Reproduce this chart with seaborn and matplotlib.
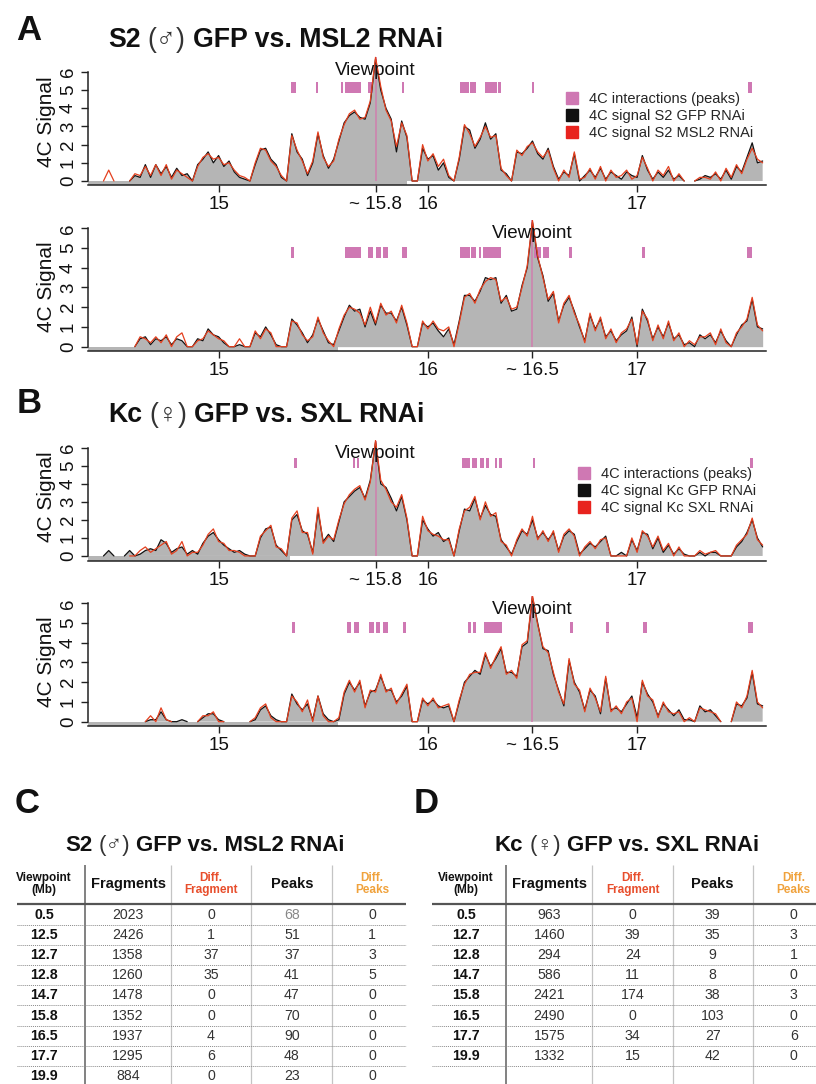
import numpy as np
import pandas as pd
import matplotlib
matplotlib.use("Agg")
import matplotlib.pyplot as plt
from matplotlib.lines import Line2D
import seaborn as sns

N = None
# genomic sampling grid (Mb)
POS_START = 14.4
POS_STEP = 0.025

# ---------------- 4C signal profiles ----------------
A_TOP_GFP = [N, N, N, N, N, N, N, 0.0, 0.3, 0.2,
             0.9, 0.2, 0.9, 0.4, 0.8, 0.2, 0.7, 0.3, 0.4, 0.0,
             0.9, 1.2, 1.6, 1.0, 1.4, 0.8, 1.1, 0.5, 0.2, 0.1,
             0.0, 0.9, 1.7, 1.8, 1.2, 0.9, 0.2, 0.0, 2.6, 1.6,
             1.2, 0.3, 1.0, 2.6, 1.4, 0.7, 1.2, 2.2, 3.2, 3.6,
             3.8, 3.5, 3.4, 4.3, 6.7, 5.0, 4.0, 3.4, 1.6, 3.3,
             2.4, 0.0, 0.0, 1.8, 1.2, 1.4, 0.6, 1.0, 0.2, 0.0,
             1.2, 3.0, 2.8, 1.8, 2.3, 3.2, 2.3, 2.6, 0.6, 0.4,
             0.0, 1.6, 1.5, 1.8, 2.2, 1.5, 1.2, 1.8, 0.8, 0.1,
             0.5, 0.3, 1.5, 0.0, 0.3, 0.6, 0.2, 0.7, 0.1, 0.5,
             0.3, 0.1, 0.5, 0.3, 0.2, 1.4, 0.6, 0.1, 0.5, 0.2,
             0.6, 0.1, 0.3, 0.0, N, 0.0, 0.1, 0.3, 0.2, 0.4,
             0.1, 0.6, 0.1, 0.8, 0.5, 1.3, 2.1, 1.0, 1.1]
A_TOP_RNAI = [N, N, 0.0, 0.6, 0.0, N, N, 0.0, 0.4, 0.3,
              0.8, 0.3, 0.9, 0.3, 0.9, 0.1, 0.6, 0.4, 0.2, 0.0,
              0.8, 1.3, 1.5, 1.2, 1.3, 0.9, 1.0, 0.6, 0.3, 0.2,
              0.0, 1.0, 1.8, 1.7, 1.1, 0.8, 0.3, 0.0, 2.5, 1.7,
              1.1, 0.4, 1.1, 2.7, 1.3, 0.8, 1.1, 2.3, 3.1, 3.7,
              3.9, 3.4, 3.5, 4.4, 6.8, 5.2, 3.9, 3.3, 1.9, 3.2,
              2.5, 0.0, 0.0, 2.0, 1.1, 1.5, 0.8, 1.2, 0.3, 0.0,
              1.3, 3.1, 2.6, 1.9, 2.4, 3.0, 2.4, 2.5, 0.7, 0.3,
              0.0, 1.7, 1.4, 1.9, 2.1, 1.6, 1.3, 1.7, 0.7, 0.0,
              0.6, 0.2, 1.6, 0.1, 0.2, 0.7, 0.1, 0.8, 0.0, 0.6,
              0.2, 0.3, 0.6, 0.1, 0.3, 1.3, 0.7, 0.0, 0.6, 0.3,
              0.8, 0.0, 0.4, 0.0, N, 0.0, 0.2, 0.2, 0.1, 0.5,
              0.0, 0.7, 0.2, 0.9, 0.4, 1.2, 1.8, 1.2, 1.0]
A_BOT_GFP = [N, N, N, N, N, N, N, N, 0.0, 0.4,
             0.5, 0.1, 0.4, 0.3, 0.5, 0.1, 0.4, 0.3, 0.0, 0.0,
             0.4, 0.3, 0.9, 0.6, 0.5, 0.2, 0.0, 0.0, 0.1, 0.0,
             0.0, 0.7, 0.5, 1.0, 0.6, 0.1, 0.0, 0.0, 1.4, 1.1,
             0.7, 0.2, 0.6, 1.4, 0.8, 0.2, 0.1, 0.8, 1.5, 2.1,
             1.8, 1.9, 1.0, 1.8, 1.1, 2.1, 1.7, 1.7, 1.3, 2.0,
             1.1, 0.0, 0.0, 1.2, 1.0, 1.2, 0.8, 0.5, 0.9, 0.1,
             1.3, 2.6, 2.6, 2.3, 2.8, 3.5, 3.4, 3.5, 2.2, 2.6,
             1.8, 1.9, 3.1, 4.0, 6.3, 4.5, 3.6, 2.3, 2.7, 1.3,
             2.1, 2.5, 1.8, 1.0, 0.3, 1.6, 0.9, 1.4, 0.5, 0.8,
             0.3, 0.6, 0.8, 1.5, 0.0, 1.9, 1.3, 0.4, 1.0, 0.5,
             1.2, 0.4, 0.6, 0.1, 0.2, 0.0, 0.6, 0.4, 0.6, 0.2,
             0.8, 0.3, 0.0, 0.6, 1.1, 1.3, 2.4, 1.0, 0.9]
A_BOT_RNAI = [N, N, N, N, N, N, N, N, 0.0, 0.5,
              0.4, 0.2, 0.5, 0.2, 0.6, 0.0, 0.5, 0.7, 0.0, 0.0,
              0.3, 0.4, 0.8, 0.6, 0.4, 0.3, 0.0, 0.0, 0.4, 0.0,
              0.0, 0.8, 0.4, 0.9, 0.7, 0.0, 0.0, 0.0, 1.3, 1.2,
              0.6, 0.3, 0.5, 1.5, 0.7, 0.3, 0.0, 0.9, 1.6, 2.0,
              1.9, 1.7, 1.1, 2.0, 1.2, 2.2, 1.6, 1.8, 1.2, 2.1,
              1.2, 0.0, 0.0, 1.3, 0.9, 1.3, 0.9, 0.8, 1.0, 0.0,
              1.2, 2.5, 2.7, 2.2, 2.9, 3.3, 3.5, 3.4, 2.3, 2.5,
              1.9, 2.0, 3.0, 4.1, 6.4, 4.6, 3.5, 2.4, 2.8, 1.2,
              2.2, 2.6, 1.7, 1.1, 0.2, 1.7, 0.8, 1.5, 0.4, 0.9,
              0.2, 0.7, 0.9, 1.4, 0.1, 1.8, 1.4, 0.3, 1.1, 0.4,
              1.3, 0.3, 0.7, 0.0, 0.3, 0.1, 0.5, 0.5, 0.7, 0.1,
              0.9, 0.2, 0.0, 0.7, 1.0, 1.4, 2.5, 1.1, 0.8]
B_TOP_GFP = [N, N, 0.0, 0.3, 0.0, N, 0.0, 0.3, 0.0, 0.1,
             0.3, 0.4, 0.3, 0.9, 0.7, 0.2, 0.4, 0.5, 0.1, 0.3,
             0.1, 0.7, 1.1, 1.3, 0.9, 0.6, 0.4, 0.2, 0.3, 0.1,
             0.0, 0.0, 1.0, 1.5, 1.6, 0.6, 0.3, 0.0, 2.0, 2.3,
             1.4, 1.2, 0.2, 2.5, 0.8, 1.2, 0.8, 1.9, 3.0, 3.3,
             3.6, 3.8, 3.2, 4.2, 6.3, 4.0, 3.8, 3.2, 2.5, 3.3,
             2.0, 0.0, 0.0, 2.0, 1.5, 1.1, 1.3, 0.8, 1.0, 0.0,
             1.4, 2.6, 2.5, 3.2, 2.1, 2.8, 2.3, 2.2, 0.9, 0.5,
             0.1, 0.8, 1.4, 1.2, 2.0, 1.0, 1.3, 0.9, 1.3, 0.3,
             1.1, 1.4, 1.2, 0.1, 0.4, 0.7, 0.5, 0.8, 1.1, 0.0,
             0.0, 0.2, 0.0, 0.9, 0.3, 1.3, 1.2, 0.4, 1.0, 0.2,
             0.6, 0.1, 0.4, 0.1, 0.0, 0.0, 0.2, 0.0, 0.2, 0.2,
             0.0, 0.0, 0.0, 0.5, 0.8, 1.3, 2.0, 1.0, 0.5]
B_TOP_RNAI = [N, N, N, N, N, N, N, 0.0, 0.0, 0.3,
              0.5, 0.2, 0.4, 0.6, 0.8, 0.1, 0.3, 0.8, 0.0, 0.2,
              0.2, 0.6, 1.2, 1.5, 0.8, 0.7, 0.3, 0.3, 0.2, 0.0,
              0.0, 0.0, 1.1, 1.4, 1.7, 0.5, 0.4, 0.0, 2.1, 2.5,
              1.3, 1.3, 0.1, 2.7, 0.7, 1.1, 0.9, 2.0, 2.9, 3.4,
              3.7, 3.9, 3.1, 4.1, 6.4, 4.2, 3.7, 3.0, 2.7, 3.4,
              2.1, 0.0, 0.0, 2.2, 1.4, 1.2, 1.1, 0.9, 0.9, 0.0,
              1.5, 2.5, 2.7, 3.3, 2.0, 3.0, 2.2, 2.4, 0.8, 0.6,
              0.0, 0.9, 1.5, 1.1, 2.2, 0.9, 1.4, 0.8, 1.4, 0.2,
              1.2, 1.5, 1.1, 0.0, 0.5, 0.8, 0.4, 0.9, 1.0, 0.0,
              0.0, 0.0, 0.0, 1.0, 0.2, 1.4, 1.1, 0.5, 1.1, 0.3,
              0.7, 0.0, 0.5, 0.0, 0.0, 0.0, 0.3, 0.1, 0.2, 0.3,
              0.0, 0.0, 0.0, 0.6, 0.9, 1.2, 2.1, 0.9, 0.6]
B_BOT_GFP = [N, N, N, N, N, N, N, N, N, N,
             0.0, 0.1, 0.1, 0.5, 0.1, 0.0, 0.0, 0.1, 0.0, N,
             0.0, 0.2, 0.4, 0.4, 0.1, 0.0, N, N, N, N,
             0.0, 0.1, 0.6, 0.8, 0.3, 0.1, 0.0, 0.0, 1.4, 0.9,
             0.6, 0.9, 0.1, 1.3, 0.4, 0.1, 0.0, 0.1, 1.4, 2.0,
             1.6, 2.0, 0.8, 1.5, 1.6, 2.3, 1.6, 1.6, 1.0, 1.3,
             1.8, 0.0, 0.0, 1.1, 0.9, 1.1, 0.8, 0.7, 0.8, 0.0,
             1.0, 2.0, 2.3, 2.6, 2.4, 3.4, 2.8, 3.2, 3.7, 2.5,
             2.5, 2.3, 3.8, 4.0, 6.3, 5.0, 3.7, 3.6, 2.4, 1.6,
             0.8, 3.1, 2.0, 1.5, 0.6, 1.6, 1.3, 0.4, 2.2, 0.6,
             0.7, 0.5, 0.9, 1.3, 0.2, 2.0, 1.4, 1.0, 0.3, 0.9,
             0.6, 0.3, 0.6, 0.1, 0.1, 0.0, 0.8, 0.5, 0.6, 0.3,
             0.0, N, 0.0, 0.9, 0.8, 1.2, 2.5, 0.9, 0.8]
B_BOT_RNAI = [N, N, N, N, N, N, N, N, N, N,
              0.0, 0.3, 0.0, 0.7, 0.1, 0.0, N, N, N, N,
              0.0, 0.3, 0.3, 0.5, 0.0, 0.0, N, N, N, N,
              0.0, 0.2, 0.7, 0.9, 0.2, 0.0, 0.0, 0.0, 1.3, 1.0,
              0.5, 1.1, 0.0, 1.3, 0.3, 0.0, 0.0, 0.2, 1.5, 2.1,
              1.5, 2.1, 0.7, 1.6, 1.5, 2.4, 1.5, 1.7, 0.9, 1.4,
              1.9, 0.0, 0.0, 1.2, 0.8, 1.2, 0.7, 0.8, 0.9, 0.0,
              1.1, 1.9, 2.4, 2.5, 2.5, 3.5, 2.7, 3.3, 3.8, 2.4,
              2.6, 2.2, 3.9, 4.1, 6.4, 4.9, 3.8, 3.5, 2.5, 1.5,
              0.9, 3.2, 1.9, 1.6, 0.5, 1.7, 1.2, 0.5, 2.3, 0.5,
              0.8, 0.4, 1.0, 1.2, 0.0, 2.1, 1.3, 1.1, 0.2, 1.0,
              0.5, 0.4, 0.5, 0.0, 0.2, 0.0, 0.7, 0.6, 0.5, 0.4,
              0.0, N, 0.0, 1.0, 0.7, 1.3, 2.6, 1.0, 0.7]

# ---------------- 4C interaction peaks (start, end in Mb) ----------------
A_TOP_PEAK_START = [15.345, 15.466, 15.587, 15.605, 15.716, 15.876, 16.154, 16.203, 16.275, 16.334, 16.497, 17.532]
A_TOP_PEAK_END = [15.369, 15.477, 15.596, 15.680, 15.737, 15.886, 16.197, 16.231, 16.330, 16.349, 16.508, 17.548]
A_BOT_PEAK_START = [15.345, 15.605, 15.716, 15.753, 15.785, 15.876, 16.154, 16.207, 16.246, 16.265, 16.509, 16.548, 16.676, 17.025, 17.524]
A_BOT_PEAK_END = [15.361, 15.680, 15.740, 15.775, 15.809, 15.899, 16.202, 16.231, 16.254, 16.349, 16.540, 16.581, 16.688, 17.038, 17.548]
B_TOP_PEAK_START = [15.361, 15.641, 15.660, 16.162, 16.210, 16.250, 16.277, 16.321, 16.340, 16.502, 17.540]
B_TOP_PEAK_END = [15.374, 15.652, 15.673, 16.202, 16.234, 16.269, 16.294, 16.332, 16.353, 16.513, 17.553]
B_BOT_PEAK_START = [15.350, 15.613, 15.648, 15.721, 15.752, 15.785, 15.880, 16.191, 16.215, 16.270, 16.680, 16.852, 17.030, 17.532]
B_BOT_PEAK_END = [15.366, 15.632, 15.673, 15.743, 15.772, 15.811, 15.896, 16.207, 16.231, 16.353, 16.692, 16.865, 17.046, 17.553]

VIEWPOINTS = [15.75, 16.5, 15.75, 16.5]
VP_LABELS = ["~ 15.8", "~ 16.5", "~ 15.8", "~ 16.5"]
X_TICKS = [15, 16, 17]
Y_TICKS = [0, 1, 2, 3, 4, 5, 6]

LEGEND_S2 = ["4C interactions (peaks)", "4C signal S2 GFP RNAi", "4C signal S2 MSL2 RNAi"]
LEGEND_KC = ["4C interactions (peaks)", "4C signal Kc GFP RNAi", "4C signal Kc SXL RNAi"]

# ---------------- tables ----------------
C_VIEWPOINT = ["0.5", "12.5", "12.7", "12.8", "14.7", "15.8", "16.5", "17.7", "19.9"]
C_FRAGMENTS = [2023, 2426, 1358, 1260, 1478, 1352, 1937, 1295, 884]
C_DIFF_FRAG = [0, 1, 37, 35, 0, 0, 4, 6, 0]
C_PEAKS = [68, 51, 37, 41, 47, 70, 90, 48, 23]
C_DIFF_PEAKS = [0, 1, 3, 5, 0, 0, 0, 0, 0]
D_VIEWPOINT = ["0.5", "12.7", "12.8", "14.7", "15.8", "16.5", "17.7", "19.9"]
D_FRAGMENTS = [963, 1460, 294, 586, 2421, 2490, 1575, 1332]
D_DIFF_FRAG = [0, 39, 24, 11, 174, 0, 34, 15]
D_PEAKS = [39, 35, 9, 8, 38, 103, 27, 42]
D_DIFF_PEAKS = [0, 3, 1, 0, 3, 0, 6, 0]
TABLE_HEADERS = ["Viewpoint\n(Mb)", "Fragments", "Diff.\nFragment", "Peaks", "Diff.\nPeaks"]

# ---------------- style ----------------
sns.set_theme(style="ticks")
FAM = ['Liberation Sans', 'DejaVu Sans']
plt.rcParams['font.family'] = FAM

PINK = '#cf78b3'
VP_PINK = '#d07fae'
BLACK = '#111111'
RED = '#e4401f'
FILL = '#b5b5b5'
AX_COL = '#222222'

W, H = 816, 1084
fig = plt.figure(figsize=(W / 100, H / 100), dpi=100)
fig.patch.set_facecolor('white')
renderer = fig.canvas.get_renderer()

X0_PX, X1_PX = 88, 766
XLIM = (14.376, 17.616)

PANELS = [
    dict(top=55, bottom=185, ylim=(-0.22, 6.93), gfp=A_TOP_GFP, rnai=A_TOP_RNAI,
         ps=A_TOP_PEAK_START, pe=A_TOP_PEAK_END, rect=(4.85, 5.43), text_y=5.83,
         band_end=15.9, ylab_y=122, legend=(LEGEND_S2, 566, 92)),
    dict(top=220, bottom=351, ylim=(-0.22, 6.42), gfp=A_BOT_GFP, rnai=A_BOT_RNAI,
         ps=A_BOT_PEAK_START, pe=A_BOT_PEAK_END, rect=(4.48, 5.04), text_y=5.49,
         band_end=15.57, ylab_y=287, legend=None),
    dict(top=440, bottom=561, ylim=(-0.28, 6.43), gfp=B_TOP_GFP, rnai=B_TOP_RNAI,
         ps=B_TOP_PEAK_START, pe=B_TOP_PEAK_END, rect=(4.88, 5.43), text_y=5.41,
         band_end=15.34, ylab_y=497, legend=(LEGEND_KC, 578, 467)),
    dict(top=596, bottom=726, ylim=(-0.22, 6.37), gfp=B_BOT_GFP, rnai=B_BOT_RNAI,
         ps=B_BOT_PEAK_START, pe=B_BOT_PEAK_END, rect=(4.48, 5.04), text_y=5.46,
         band_end=15.57, ylab_y=662, legend=None),
]


def to_arr(vals):
    return np.array([np.nan if v is None else v for v in vals], float)


def seg_frame(arr):
    pos = POS_START + POS_STEP * np.arange(len(arr))
    seg = np.cumsum(np.isnan(arr))
    return pd.DataFrame({'pos': pos, 'signal': arr, 'seg': seg}).dropna()


for k, p in enumerate(PANELS):
    ax = fig.add_axes([X0_PX / W, 1 - p['bottom'] / H, (X1_PX - X0_PX) / W,
                       (p['bottom'] - p['top']) / H])
    ax.set_facecolor('none')
    ax.set_xlim(*XLIM)
    ax.set_ylim(*p['ylim'])
    gfp = to_arr(p['gfp'])
    rnai = to_arr(p['rnai'])
    pos = POS_START + POS_STEP * np.arange(len(gfp))
    vp = VIEWPOINTS[k]

    # baseline band
    frac = (p['band_end'] - XLIM[0]) / (XLIM[1] - XLIM[0])
    ax.axhspan(p['ylim'][0], 0, xmin=0, xmax=frac, color=FILL, lw=0, zorder=1)
    # area under GFP signal
    ok = np.isfinite(gfp)
    ax.fill_between(pos, 0, np.where(ok, gfp, 0), where=ok, color=FILL, lw=0, zorder=1)
    # viewpoint line
    vi = int(round((vp - POS_START) / POS_STEP))
    ax.vlines(vp, 0, np.nanmax([gfp[vi], rnai[vi]]), color=VP_PINK, lw=1.1, zorder=2)
    # peaks
    ax.broken_barh([(s, e - s) for s, e in zip(p['ps'], p['pe'])],
                   (p['rect'][0], p['rect'][1] - p['rect'][0]),
                   facecolors=PINK, edgecolor='none', zorder=2)
    # signals
    sns.lineplot(data=seg_frame(gfp), x='pos', y='signal', units='seg', estimator=None,
                 color=BLACK, lw=0.9, sort=False, ax=ax, legend=False, zorder=3)
    sns.lineplot(data=seg_frame(rnai), x='pos', y='signal', units='seg', estimator=None,
                 color=RED, lw=0.9, sort=False, ax=ax, legend=False, zorder=4)
    ax.text(vp, p['text_y'], "Viewpoint", ha='center', va='baseline', fontsize=13.5,
            color=BLACK, zorder=5)

    # axes styling (R-like)
    ticks = sorted(X_TICKS + [vp])
    labels = [VP_LABELS[k] if t == vp else str(t) for t in ticks]
    ax.set_xticks(ticks)
    ax.set_xticklabels(labels)
    ax.set_yticks(Y_TICKS)
    ax.set_yticklabels([str(t) for t in Y_TICKS], rotation=90, va='center')
    ax.set_xlabel('')
    ax.set_ylabel('')
    ax.tick_params(direction='out', length=5, width=1, color=AX_COL, labelsize=13.5,
                   labelcolor=BLACK, pad=3)
    sns.despine(ax=ax)
    ax.spines['left'].set_bounds(0, 6)
    for s in ('left', 'bottom'):
        ax.spines[s].set_color(AX_COL)
        ax.spines[s].set_linewidth(1.1)
    fig.text(47 / W, 1 - p['ylab_y'] / H, "4C Signal", rotation=90, ha='center',
             va='center', fontsize=15, color=BLACK)

    if p['legend'] is not None:
        labs, lx, ly = p['legend']
        handles = [Line2D([], [], marker='s', ls='', color=c, markersize=9)
                   for c in (PINK, BLACK, '#e8231e')]
        ax.legend(handles, labs, loc='upper left',
                  bbox_to_anchor=((lx - X0_PX) / (X1_PX - X0_PX),
                                  (p['bottom'] - ly) / (p['bottom'] - p['top'])),
                  frameon=False, fontsize=10.5, handlelength=0.8, handletextpad=0.8,
                  labelspacing=0.22, borderpad=0, borderaxespad=0)


def draw_title(x_px, base_px, parts, size, align='left'):
    texts, widths = [], []
    for s, wgt, col in parts:
        t = fig.text(0, 0, s, fontsize=size, fontweight=wgt, color=col, va='baseline',
                     ha='left', family=FAM)
        widths.append(t.get_window_extent(renderer).width)
        texts.append(t)
    gap = size * 100 / 72 * 0.27
    total = sum(widths) + gap * (len(parts) - 1)
    x = x_px if align == 'left' else x_px - total / 2
    for t, wd in zip(texts, widths):
        t.set_position((x / W, 1 - base_px / H))
        x += wd + gap


S2_PARTS = [("S2", 'bold', BLACK), ("(\u2642)", 'normal', '#333333'),
            ("GFP vs. MSL2 RNAi", 'bold', BLACK)]
KC_PARTS = [("Kc", 'bold', BLACK), ("(\u2640)", 'normal', '#333333'),
            ("GFP vs. SXL RNAi", 'bold', BLACK)]

draw_title(108, 47, S2_PARTS, 19.3)
draw_title(108, 421.5, KC_PARTS, 19.3)
draw_title(205, 851, S2_PARTS, 16, align='center')
draw_title(627, 851, KC_PARTS, 16, align='center')

for lab, x, y in (("A", 16, 40), ("B", 17, 413), ("C", 15, 813), ("D", 414, 813)):
    fig.text(x / W, 1 - y / H, lab, fontsize=25, fontweight='bold', va='baseline',
             ha='left', color=BLACK)

# ---------------- tables ----------------
tax = fig.add_axes([0, 0, 1, 1], zorder=-1)
tax.set_xlim(0, W)
tax.set_ylim(H, 0)
tax.axis('off')

HEADER_COLORS = [BLACK, BLACK, '#e84e2c', BLACK, '#f0a23c']
HEADER_SIZES = [8.5, 10.5, 8.5, 10.5, 8.5]
ROW0, ROW_STEP = 915.0, 20.1


def draw_table(x_left, x_right, col_x, sep_x, cols, n_sep, gray_first_peak=False):
    tax.vlines(sep_x[0], 865, H, color='#777777', lw=1.3)
    tax.vlines(sep_x[1:], 865, H, color='#c4c4c4', lw=0.9)
    tax.hlines(903.5, x_left, x_right, color='#555555', lw=1.6)
    for j in range(n_sep):
        tax.hlines(ROW0 + ROW_STEP / 2 + j * ROW_STEP, x_left, x_right, color='#8a8a8a',
                   lw=0.7, linestyles=(0, (1, 1)))
    for hx, htxt, hc, hs in zip(col_x, TABLE_HEADERS, HEADER_COLORS, HEADER_SIZES):
        tax.text(hx, 884, htxt, ha='center', va='center', fontsize=hs, fontweight='bold',
                 color=hc, linespacing=1.05)
    for ci, (cx, vals) in enumerate(zip(col_x, cols)):
        for ri, v in enumerate(vals):
            col = '#333333'
            if ci == 3 and ri == 0 and gray_first_peak:
                col = '#888888'
            tax.text(cx, ROW0 + ri * ROW_STEP, str(v), ha='center', va='center',
                     fontsize=10.2, fontweight='bold' if ci == 0 else 'normal',
                     color=BLACK if ci == 0 else col)


draw_table(17, 406, [44, 128, 211, 292, 372], [85, 170.7, 250.7, 331.7],
           [C_VIEWPOINT, C_FRAGMENTS, C_DIFF_FRAG, C_PEAKS, C_DIFF_PEAKS], 8,
           gray_first_peak=True)
draw_table(432, 816, [466, 549.3, 632.7, 712.7, 793.7], [506, 592, 672.7, 753.3],
           [D_VIEWPOINT, D_FRAGMENTS, D_DIFF_FRAG, D_PEAKS, D_DIFF_PEAKS], 8)

fig.savefig("out.png", dpi=100, facecolor='white')
